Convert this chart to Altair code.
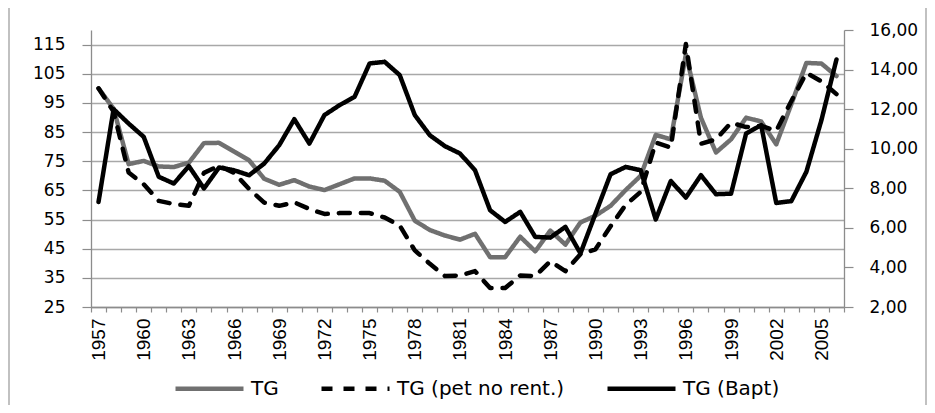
import altair as alt
import pandas as pd

years = list(range(1957, 2007))

tg = [100, 93, 74, 75.1, 73.2, 73, 74.5, 81.2, 81.3, 78.3,
      75.3, 69, 66.9, 68.5, 66.3, 65.1, 67.1, 69.1, 69.1, 68.3,
      64.5, 54.6, 51.4, 49.5, 48.1, 50.1, 42.1, 42.1, 49.1, 44.1,
      51.2, 46.4, 54.0, 56.3, 59.7, 65.1, 70.0, 84, 82.5, 111.6,
      89.9, 78.0, 82.5, 89.9, 88.6, 80.8, 94.5, 108.7, 108.5, 104.2]

tg_pet = [100, 92, 71.1, 67.1, 61.4, 60.3, 59.7, 71, 73.4, 71,
          65.5, 60.8, 59.7, 60.9, 58.6, 56.9, 57.2, 57.2, 57.2, 55.7,
          52.9, 44.4, 39.8, 35.6, 35.8, 37.3, 31.5, 31.5, 35.8, 35.6,
          40.7, 37.3, 43.1, 44.8, 52.7, 60, 64.5, 81.4, 79.7, 115.2,
          81.0, 82.5, 88.2, 86.7, 87.1, 85.4, 95.6, 105.3, 102.4, 98]

tg_bapt = [7.31, 12.0, 11.27, 10.6, 8.58, 8.24, 9.12, 7.99, 9.05, 8.91,
           8.66, 9.25, 10.18, 11.49, 10.26, 11.7, 12.2, 12.62, 14.31, 14.39,
           13.72, 11.7, 10.68, 10.13, 9.76, 8.91, 6.89, 6.3, 6.81, 5.54,
           5.51, 6.05, 4.71, 6.72, 8.71, 9.08, 8.91, 6.42, 8.37, 7.53,
           8.66, 7.7, 7.73, 10.77, 11.19, 7.26, 7.35, 8.83, 11.44, 14.51]

series_names = ["TG", "TG (pet no rent.)", "TG (Bapt)"]
left_ticks = [25, 35, 45, 55, 65, 75, 85, 95, 105, 115]
right_ticks = [2, 4, 6, 8, 10, 12, 14, 16]

df = pd.DataFrame({
    "year": years * 3,
    "value": tg + tg_pet + tg_bapt,
    "series": [s for s in series_names for _ in years],
})

colors = ["#707070", "#000000", "#000000"]
dashes = [[1, 0], [11, 11], [1, 0]]
AX = "#8c8c8c"

leg = alt.Legend(
    title=None, orient="none", legendX=82, legendY=322, direction="horizontal",
    columns=3, symbolType="stroke", symbolSize=4624, symbolStrokeWidth=4.5,
    labelFont="DejaVu Sans", labelFontSize=20, labelColor="black",
    labelOffset=5, columnPadding=33, padding=0, labelLimit=400,
)

color = alt.Color("series:N", scale=alt.Scale(domain=series_names, range=colors), legend=leg)
dash = alt.StrokeDash("series:N", scale=alt.Scale(domain=series_names, range=dashes), legend=leg)

x = alt.X(
    "year:O",
    scale=alt.Scale(type="band", paddingInner=0, paddingOuter=0),
    bandPosition=0.5,
    axis=alt.Axis(
        title=None, tickBand="extent", labelAngle=270, labelOverlap=False,
        labelExpr="(datum.value - 1957) % 3 == 0 ? '' + datum.value : ''",
        labelFont="Liberation Sans", labelFontSize=19, labelColor="black",
        labelPadding=6, tickSize=5, tickColor=AX, domainColor=AX,
        domainWidth=1.3, tickWidth=1.2, grid=False,
    ),
)

yl = alt.Y(
    "value:Q",
    scale=alt.Scale(domain=[25, 120], nice=False, zero=False),
    axis=alt.Axis(
        title=None, orient="left", values=left_ticks, labelFont="DejaVu Sans",
        labelFontSize=17, labelColor="black", labelPadding=17, tickSize=9,
        tickColor=AX, domainColor=AX, domainWidth=1.3, tickWidth=1.2,
        grid=True, gridColor="#a8a8a8", gridWidth=1.3,
    ),
)

yr = alt.Y(
    "value:Q",
    scale=alt.Scale(domain=[2, 16], nice=False, zero=False),
    axis=alt.Axis(
        title=None, orient="right", values=right_ticks, labelFont="DejaVu Sans",
        labelFontSize=17, labelColor="black", labelPadding=16, tickSize=9,
        tickColor=AX, domainColor=AX, domainWidth=1.3, tickWidth=1.2, grid=False,
        labelExpr="replace(format(datum.value, '.2f'), '.', ',')",
    ),
)

base = alt.Chart(df).encode(x=x, color=color, strokeDash=dash)
line_kw = dict(strokeWidth=4.5, strokeCap="round", strokeJoin="round")

gray = base.transform_filter(alt.datum.series == "TG").mark_line(**line_kw).encode(y=yl)
dashed = base.transform_filter(alt.datum.series == "TG (pet no rent.)").mark_line(**line_kw).encode(y=yl)
bapt = base.transform_filter(alt.datum.series == "TG (Bapt)").mark_line(**line_kw).encode(y=yr)

left = alt.layer(gray, dashed)

border = alt.Chart(pd.DataFrame({"k": [0]})).mark_rect(
    fillOpacity=0, stroke="#a0a0a0", strokeWidth=1.3
).encode(x=alt.value(-82), x2=alt.value(835), y=alt.value(-23), y2=alt.value(400))

chart = alt.layer(border, left, bapt).resolve_scale(y="independent").properties(
    width=753, height=277,
    padding={"left": 83, "top": 22, "right": 83, "bottom": 98},
    autosize=alt.AutoSizeParams(type="none"),
).configure_view(strokeWidth=0)

chart.save("out.html", embed_options={"renderer": "svg", "actions": False})
